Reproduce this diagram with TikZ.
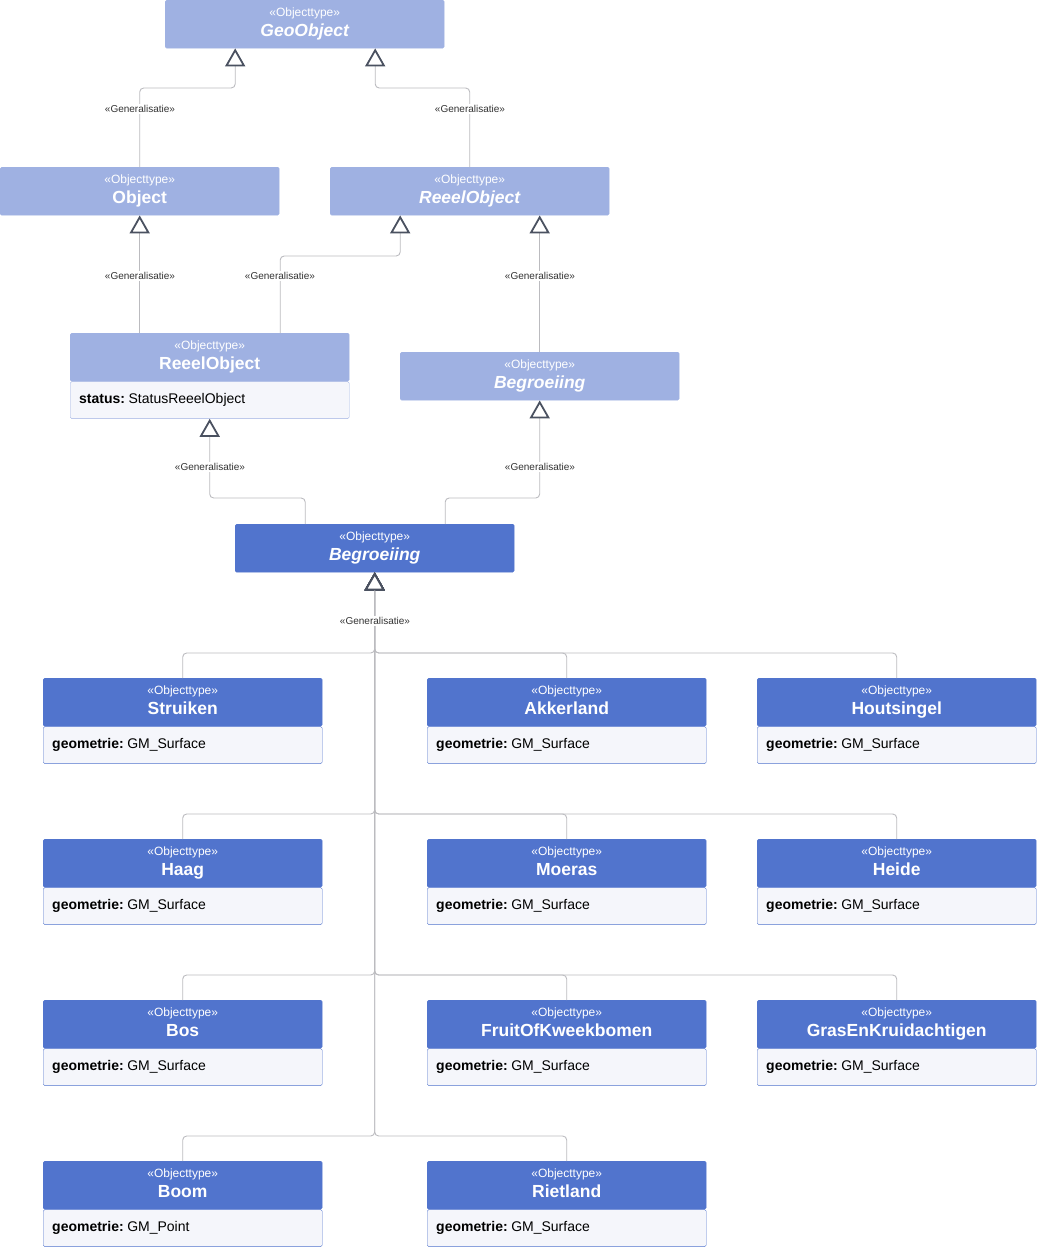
\documentclass[tikz,border=0pt]{standalone}
\usepackage{fontspec}
\setmainfont{Liberation Sans}
\usetikzlibrary{arrows.meta}
\definecolor{lightc}{HTML}{9FB1E2}
\definecolor{darkc}{HTML}{5174CD}
\definecolor{attrbg}{HTML}{F5F6FB}
\definecolor{linec}{HTML}{BBBBBF}
\definecolor{tipc}{HTML}{4A5160}
\definecolor{lblc}{HTML}{333333}
\newcommand\ohead[2]{{\fontsize{12}{20}\selectfont\rule[-2pt]{0pt}{11pt}«Objecttype»}\\{\fontsize{17.5}{20}\selectfont\bfseries #2\rule[-5pt]{0pt}{20pt}#1}}
\newcommand\oattr[2]{\raisebox{-1.5pt}{\textbf{#1:}\hspace{3.5pt}#2}}
\tikzset{
  hdr/.style={anchor=north west, minimum width=279pt, minimum height=48pt, inner sep=0pt,
    text=white, align=center, rounded corners=1.5pt, font=\fontsize{12}{20}\selectfont},
  lighthdr/.style={hdr, fill=lightc, draw=lightc},
  darkhdr/.style={hdr, fill=darkc, draw=darkc},
  attrbox/.style={anchor=north west, minimum width=279pt, minimum height=37pt, inner xsep=9pt,
    inner ysep=0pt, text width=261pt, align=left, fill=attrbg, font=\fontsize{14}{16}\selectfont,
    rounded corners=1.5pt},
  gen/.style={draw=linec, line width=0.9pt, rounded corners=4pt,
    -{Triangle[open, length=18pt, width=20pt, line width=1.8pt, color=tipc, fill=white]}},
  glabel/.style={fill=white, inner sep=1.5pt, text=lblc, font=\fontsize{10}{11}\selectfont}
}
\begin{document}
\begin{tikzpicture}[x=1pt, y=-1pt]
\useasboundingbox (0,0) rectangle (1037,1247);

% upper hierarchy
\node[lighthdr] (geo) at (165,0) {\ohead{GeoObject}{\itshape}};
\node[lighthdr] (object) at (0,167) {\ohead{Object}{}};
\node[lighthdr] (reeel1) at (330,167) {\ohead{ReeelObject}{\itshape}};
\node[lighthdr] (reeel2) at (70,333) {\ohead{ReeelObject}{}};
\node[attrbox, draw=lightc] (reeel2a) at (reeel2.south west) {\oattr{status}{StatusReeelObject}};
\node[lighthdr] (begr1) at (400,352) {\ohead{Begroeiing}{\itshape}};
\node[darkhdr] (begr2) at (235,524) {\ohead{Begroeiing}{\itshape}};

% children
\foreach \nm/\txt/\xx/\yy/\geom in {
  struiken/Struiken/43/678/GM\_Surface,
  akkerland/Akkerland/427/678/GM\_Surface,
  houtsingel/Houtsingel/757/678/GM\_Surface,
  haag/Haag/43/839/GM\_Surface,
  moeras/Moeras/427/839/GM\_Surface,
  heide/Heide/757/839/GM\_Surface,
  bos/Bos/43/1000/GM\_Surface,
  fruit/FruitOfKweekbomen/427/1000/GM\_Surface,
  gras/GrasEnKruidachtigen/757/1000/GM\_Surface,
  boom/Boom/43/1161/GM\_Point,
  rietland/Rietland/427/1161/GM\_Surface}{
  \node[darkhdr] (\nm) at (\xx,\yy) {\ohead{\txt}{}};
  \node[attrbox, draw=darkc] (\nm a) at (\nm.south west) {\oattr{geometrie}{\geom}};
}

% generalisations
\draw[gen] (object.north) -- ++(0,-79) -| ([xshift=-69.5pt]geo.south);
\draw[gen] (reeel1.north) -- ++(0,-79) -| ([xshift=70.5pt]geo.south);
\draw[gen] (object.south |- reeel2.north) -- (object.south);
\draw[gen] ([xshift=70.5pt]reeel2.north) -- ++(0,-77) -| ([xshift=-69.5pt]reeel1.south);
\draw[gen] (begr1.north) -- ([xshift=70pt]reeel1.south);
\draw[gen] ([xshift=-69.5pt]begr2.north) -- ++(0,-26) -| (reeel2a.south);
\draw[gen] ([xshift=70.5pt]begr2.north) -- ++(0,-26) -| (begr1.south);
\foreach \nm in {struiken,akkerland,houtsingel,haag,moeras,heide,bos,fruit,gras,boom,rietland}{
  \draw[gen] (\nm.north) -- ++(0,-25) -| (begr2.south);
}

% labels
\node[glabel] (l1) at (140,109) {«Generalisatie»};
\node[glabel] (l2) at (470,109) {«Generalisatie»};
\node[glabel] (l3) at (140,276) {«Generalisatie»};
\node[glabel] (l4) at (280,276) {«Generalisatie»};
\node[glabel] (l5) at (540,276) {«Generalisatie»};
\node[glabel] (l6) at (210,467) {«Generalisatie»};
\node[glabel] (l7) at (540,467) {«Generalisatie»};
\node[glabel] (l8) at (375,621) {«Generalisatie»};
\end{tikzpicture}
\end{document}
